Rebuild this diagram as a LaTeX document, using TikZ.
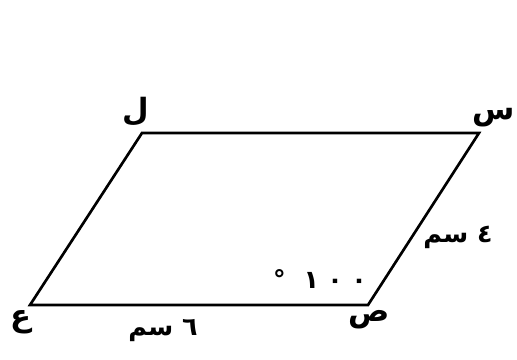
\documentclass[tikz,border=0pt]{standalone}
\usepackage{fontspec}
\newfontfamily\arabicfont[Script=Arabic]{DejaVu Sans}
\TeXXeTstate=1
\begin{document}
\begin{tikzpicture}[x=0.75pt, y=-0.75pt,
  side/.style={line width=2pt, line join=miter},
  lbl/.style={inner sep=0pt, font=\arabicfont\bfseries\fontsize{19}{22}\selectfont},
  big/.style={font=\arabicfont\bfseries\fontsize{23}{26}\selectfont}]
\path[use as bounding box] (0,0) rectangle (517,360);
\coordinate (A) at (30,305);
\coordinate (B) at (368,305);
\coordinate (C) at (479,133);
\coordinate (D) at (142,133);
\draw[side] (A) -- (B) -- (C) -- (D) -- cycle;
\node[lbl, big] (lA) at (21,322) {\beginR ع\endR};
\node[lbl, big] (lB) at (369,320) {\beginR ص\endR};
\node[lbl, big, anchor=east] (lC) at (515,118) {\beginR س\endR};
\node[lbl, big] (lD) at (136,112) {\beginR ل\endR};
\node[lbl] (sBC) at (458,237) {\beginR ٤ سم\endR};
\node[lbl] (sAB) at (163,331) {\beginR ٦ سم\endR};
\node[lbl] (angB) at (320,279) {\beginR \beginL ١\,\,٠\,\,٠\endL{}\ \ °\endR};
\end{tikzpicture}
\end{document}
